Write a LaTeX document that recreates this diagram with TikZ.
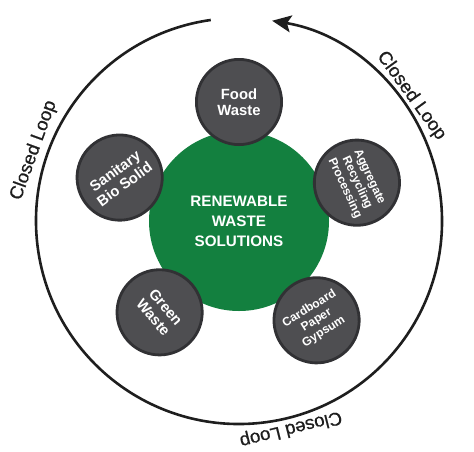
\documentclass[tikz,border=0pt]{standalone}
\usepackage{fontspec}
\setsansfont{Liberation Sans}
\newfontfamily\loopfont[FakeBold=0.6]{Liberation Sans}
\usetikzlibrary{arrows.meta}
\definecolor{HubGreen}{HTML}{13803F}
\definecolor{BubbleFill}{HTML}{4E4E51}
\definecolor{BubbleBorder}{HTML}{313134}
\definecolor{LoopDark}{HTML}{1E1E1E}

\begin{document}
\begin{tikzpicture}[
        x=0.5pt, y=0.5pt,
        hub/.style={circle, fill=HubGreen, minimum size=90pt, inner sep=0pt, align=center, text=white, font=\sffamily\bfseries\fontsize{7.6}{10}\selectfont},
        bubble/.style={circle, draw=BubbleBorder, fill=BubbleFill, line width=1.4pt, minimum size=42.6pt, inner sep=0pt, align=center, text=white, font=\sffamily\bfseries\fontsize{7.4}{8.1}\selectfont},
        sbubble/.style={bubble, font=\sffamily\bfseries\fontsize{6}{6.8}\selectfont},
        looplbl/.style={font=\loopfont\fontsize{9.3}{10}\selectfont, text=LoopDark},
        looparr/.style={-{Stealth[length=9.5pt, width=8.5pt, inset=2pt]}, line width=1.3pt, LoopDark}
      ]
        \useasboundingbox (-239,-230) rectangle (235,221);

        % closed loop ring
        \draw[looparr] (98:203) arc[start angle=98, end angle=440.6, radius=203];
        \node[looplbl, rotate=70] (loopw) at (161:217) {Closed Loop};
        \node[looplbl, rotate=-54] (loope) at (36:213) {Closed Loop};
        \node[looplbl, rotate=-166] (loops) at (-76:214) {Closed Loop};

        \node[hub] (hub) at (0,0) {RENEWABLE\\WASTE\\SOLUTIONS};

        \node[bubble] (food) at (90:119) {Food\\Waste};
        \node[sbubble, rotate=-65] (aggr) at (18:124) {Aggregate\\Recycling\\Processing};
        \node[sbubble, rotate=32] (card) at (-52:126) {Cardboard\\Paper\\Gypsum};
        \node[bubble, rotate=-50] (green) at (-131:121) {Green\\Waste};
        \node[bubble, rotate=36] (sanit) at (160:127) {Sanitary\\Bio Solid};
      \end{tikzpicture}
\end{document}
